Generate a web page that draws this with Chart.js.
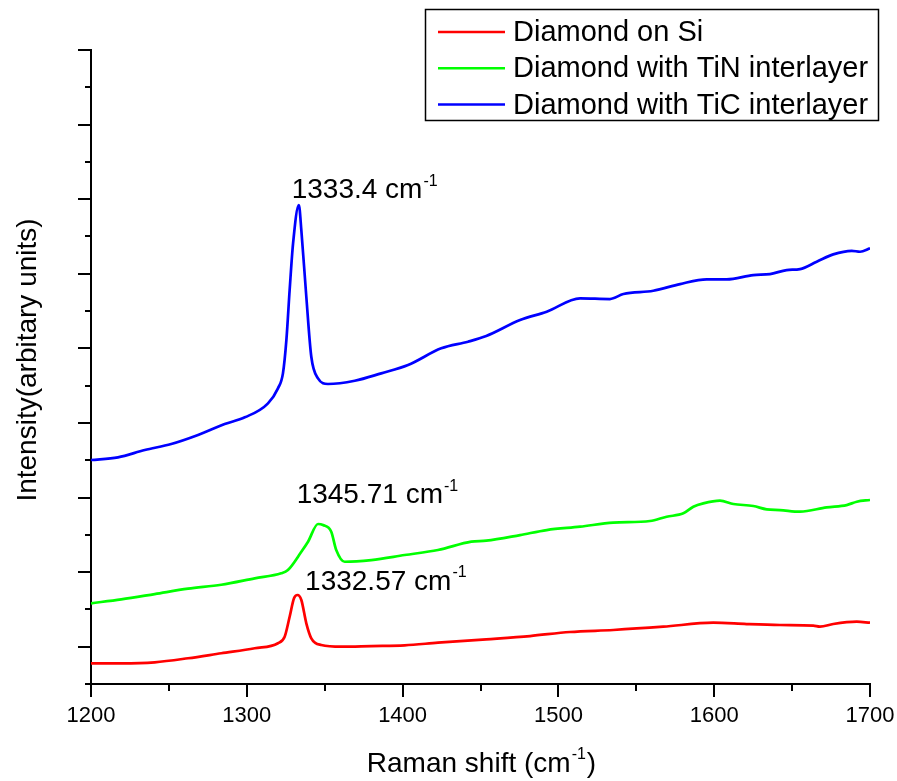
<!DOCTYPE html>
<html>
<head>
<meta charset="utf-8">
<script src="https://cdn.jsdelivr.net/npm/chart.js@4.4.1/dist/chart.umd.min.js"></script>
<style>
  html, body { margin: 0; padding: 0; background: #fff; }
  #wrap { width: 897px; height: 781px; }
</style>
</head>
<body>
<div id="wrap"><canvas id="raman" width="897" height="781"></canvas></div>
<script>
// ------------------------
// Data
// ------------------------

const seriesLabels = ["Diamond on Si", "Diamond with TiN interlayer", "Diamond with TiC interlayer"];
const seriesColors = ["#ff0000", "#00ff00", "#0000ff"];

const siShift = [1200, 1219.4, 1240.9, 1262.3, 1283.6, 1305.1, 1320, 1324.3, 1327.5, 1330.3, 1332.57, 1335, 1338.2, 1341.4, 1347.8, 1360.7, 1379.9, 1401.3, 1422.7, 1453.7, 1481.8, 1507.4, 1535.2, 1567.3, 1599.4, 1620.8, 1642.2, 1663.6, 1667.9, 1676.4, 1691.5, 1700];
const siIntensity = [277, 277, 291, 345, 412, 479, 546, 634, 902, 1149, 1193, 1126, 814, 613, 523, 500, 509, 519, 554, 599, 643, 697, 724, 768, 822, 804, 791, 782, 768, 804, 835, 822];

const tinShift = [1200, 1219.4, 1240.9, 1262.3, 1283.6, 1305.1, 1322.1, 1326.4, 1335, 1339.3, 1345.71, 1348.9, 1354.2, 1357.4, 1362.8, 1379.9, 1401.3, 1422.7, 1444.1, 1453.7, 1475.4, 1492.5, 1513.9, 1535.2, 1558.8, 1569.5, 1580.2, 1586.6, 1593, 1603.7, 1612.3, 1625.1, 1633.7, 1642.2, 1655.1, 1672.2, 1685, 1691.5, 1700];
const tinIntensity = [1082, 1135, 1206, 1278, 1331, 1417, 1484, 1528, 1773, 1908, 2145, 2131, 2042, 1796, 1639, 1662, 1729, 1796, 1908, 1921, 1997, 2064, 2109, 2163, 2185, 2243, 2288, 2377, 2422, 2458, 2413, 2386, 2341, 2332, 2310, 2369, 2399, 2444, 2467];

const ticShift = [1200, 1217.3, 1234.5, 1251.5, 1268.7, 1285.8, 1298.7, 1313.6, 1320, 1323.2, 1325.4, 1327.5, 1329.7, 1333.4, 1335, 1338.2, 1341.4, 1345.7, 1352.1, 1369.3, 1386.3, 1403.5, 1424.8, 1442, 1453.7, 1475.4, 1492.5, 1513.9, 1533.1, 1541.7, 1560.9, 1578.1, 1595.2, 1608, 1625.1, 1635.8, 1646.5, 1655.1, 1665.8, 1676.4, 1688.3, 1693.6, 1700];
const ticIntensity = [3003, 3039, 3137, 3217, 3338, 3485, 3575, 3763, 3964, 4165, 4611, 5282, 5908, 6421, 6086, 5192, 4388, 4098, 4022, 4066, 4165, 4276, 4500, 4589, 4665, 4879, 4991, 5170, 5161, 5228, 5272, 5362, 5425, 5425, 5483, 5496, 5550, 5563, 5661, 5760, 5808, 5795, 5841];

// peak annotations: text, anchor shift, anchor intensity
const peakText = ["1333.4", "1345.71", "1332.57"];
const peakShift = [1328.8, 1332.0, 1337.4];
const peakIntensity = [6511, 2422, 1260];

// axes
const xTickLabels = [1200, 1300, 1400, 1500, 1600, 1700];
const xMinorTicks = [1250, 1350, 1450, 1550, 1650];
const yMajorTicks = [500, 1500, 2500, 3500, 4500, 5500, 6500, 7500, 8500];
const yMinorTicks = [0, 1000, 2000, 3000, 4000, 5000, 6000, 7000, 8000];

const FONT = "Arial, 'Liberation Sans', sans-serif";

// ------------------------
// Helpers
// ------------------------

function toPoints(xs, ys) {
    return xs.map((v, i) => ({ x: v, y: ys[i] }));
}

// draws "text cm^-1" starting at x (left), baseline y
function drawUnitText(ctx, text, x, y, size, align) {
    const supSize = Math.round(size * 0.58);
    ctx.font = `${size}px ${FONT}`;
    const w1 = ctx.measureText(text).width;
    ctx.font = `${supSize}px ${FONT}`;
    const w2 = ctx.measureText("-1").width;
    const tail = align === "center" ? ")" : "";
    ctx.font = `${size}px ${FONT}`;
    const w3 = ctx.measureText(tail).width;
    let left = x;
    if (align === "center") left = x - (w1 + w2 + w3) / 2;
    ctx.textAlign = "left";
    ctx.textBaseline = "alphabetic";
    ctx.fillText(text, left, y);
    ctx.font = `${supSize}px ${FONT}`;
    ctx.fillText("-1", left + w1 + 1, y - size * 0.45);
    if (tail) {
        ctx.font = `${size}px ${FONT}`;
        ctx.fillText(tail, left + w1 + w2 + 2, y);
    }
}

// ------------------------
// Axes, labels, legend
// ------------------------

const decorations = {

    id: "decorations",

    afterDraw(chart) {

        const ctx = chart.ctx;
        const xs = chart.scales.x;
        const ys = chart.scales.y;
        const area = chart.chartArea;

        ctx.save();
        ctx.strokeStyle = "#000";
        ctx.fillStyle = "#000";
        ctx.lineWidth = 2;

        // x tick marks
        const tick = (v, len) => {
            const px = Math.round(xs.getPixelForValue(v));
            ctx.beginPath();
            ctx.moveTo(px, area.bottom);
            ctx.lineTo(px, area.bottom + len);
            ctx.stroke();
        };
        xTickLabels.forEach(v => tick(v, 13));
        xMinorTicks.forEach(v => tick(v, 7));

        // y tick marks
        const ytick = (v, len) => {
            const py = Math.round(ys.getPixelForValue(v));
            ctx.beginPath();
            ctx.moveTo(area.left, py);
            ctx.lineTo(area.left - len, py);
            ctx.stroke();
        };
        yMajorTicks.forEach(v => ytick(v, 13));
        yMinorTicks.forEach(v => ytick(v, 6));

        // x tick labels
        ctx.font = `22px ${FONT}`;
        ctx.textAlign = "center";
        ctx.textBaseline = "alphabetic";
        xTickLabels.forEach(v => {
            ctx.fillText(String(v), xs.getPixelForValue(v), area.bottom + 38);
        });

        // axis titles
        drawUnitText(ctx, "Raman shift (cm", (area.left + area.right) / 2, 772, 28, "center");

        ctx.save();
        ctx.translate(28, 360);
        ctx.rotate(-Math.PI / 2);
        ctx.font = `28px ${FONT}`;
        ctx.textAlign = "center";
        ctx.textBaseline = "middle";
        ctx.fillText("Intensity(arbitary units)", 0, 0);
        ctx.restore();

        // peak annotations
        peakText.forEach((t, i) => {
            const px = xs.getPixelForValue(peakShift[i]);
            const py = ys.getPixelForValue(peakIntensity[i]);
            drawUnitText(ctx, t + " cm", px, py, 28, "left");
        });

        // legend
        ctx.lineWidth = 1.5;
        ctx.strokeRect(425.5, 9.5, 453, 111);
        chart.data.datasets.forEach((ds, i) => {
            const rowY = 32 + i * 36.3;
            ctx.strokeStyle = ds.borderColor;
            ctx.lineWidth = 2.5;
            ctx.beginPath();
            ctx.moveTo(438, rowY);
            ctx.lineTo(505, rowY);
            ctx.stroke();
            ctx.fillStyle = "#000";
            ctx.font = `29px ${FONT}`;
            ctx.textAlign = "left";
            ctx.textBaseline = "middle";
            ctx.fillText(ds.label, 513, rowY + 1);
        });

        ctx.restore();
    }
};

// ------------------------
// Chart
// ------------------------

new Chart(document.getElementById("raman"), {

    type: "line",

    data: {

        datasets: [
            { label: seriesLabels[0], data: toPoints(siShift, siIntensity), borderColor: seriesColors[0] },
            { label: seriesLabels[1], data: toPoints(tinShift, tinIntensity), borderColor: seriesColors[1] },
            { label: seriesLabels[2], data: toPoints(ticShift, ticIntensity), borderColor: seriesColors[2] }
        ]

    },

    options: {

        responsive: false,
        animation: false,

        layout: {
            padding: { top: 50, right: 27, left: 0, bottom: 0 }
        },

        elements: {
            line: { borderWidth: 2.7, cubicInterpolationMode: "monotone", fill: false },
            point: { radius: 0 }
        },

        plugins: {
            legend: { display: false },
            tooltip: { enabled: false }
        },

        scales: {

            x: {
                type: "linear",
                min: 1200,
                max: 1700,
                ticks: { display: false },
                grid: { display: false },
                border: { display: true, color: "#000", width: 2 },
                afterFit: s => { s.height = 97; }
            },

            y: {
                type: "linear",
                min: 0,
                max: 8500,
                ticks: { display: false },
                grid: { display: false },
                border: { display: true, color: "#000", width: 2 },
                afterFit: s => { s.width = 91; }
            }

        }

    },

    plugins: [decorations]

});
</script>
</body>
</html>
